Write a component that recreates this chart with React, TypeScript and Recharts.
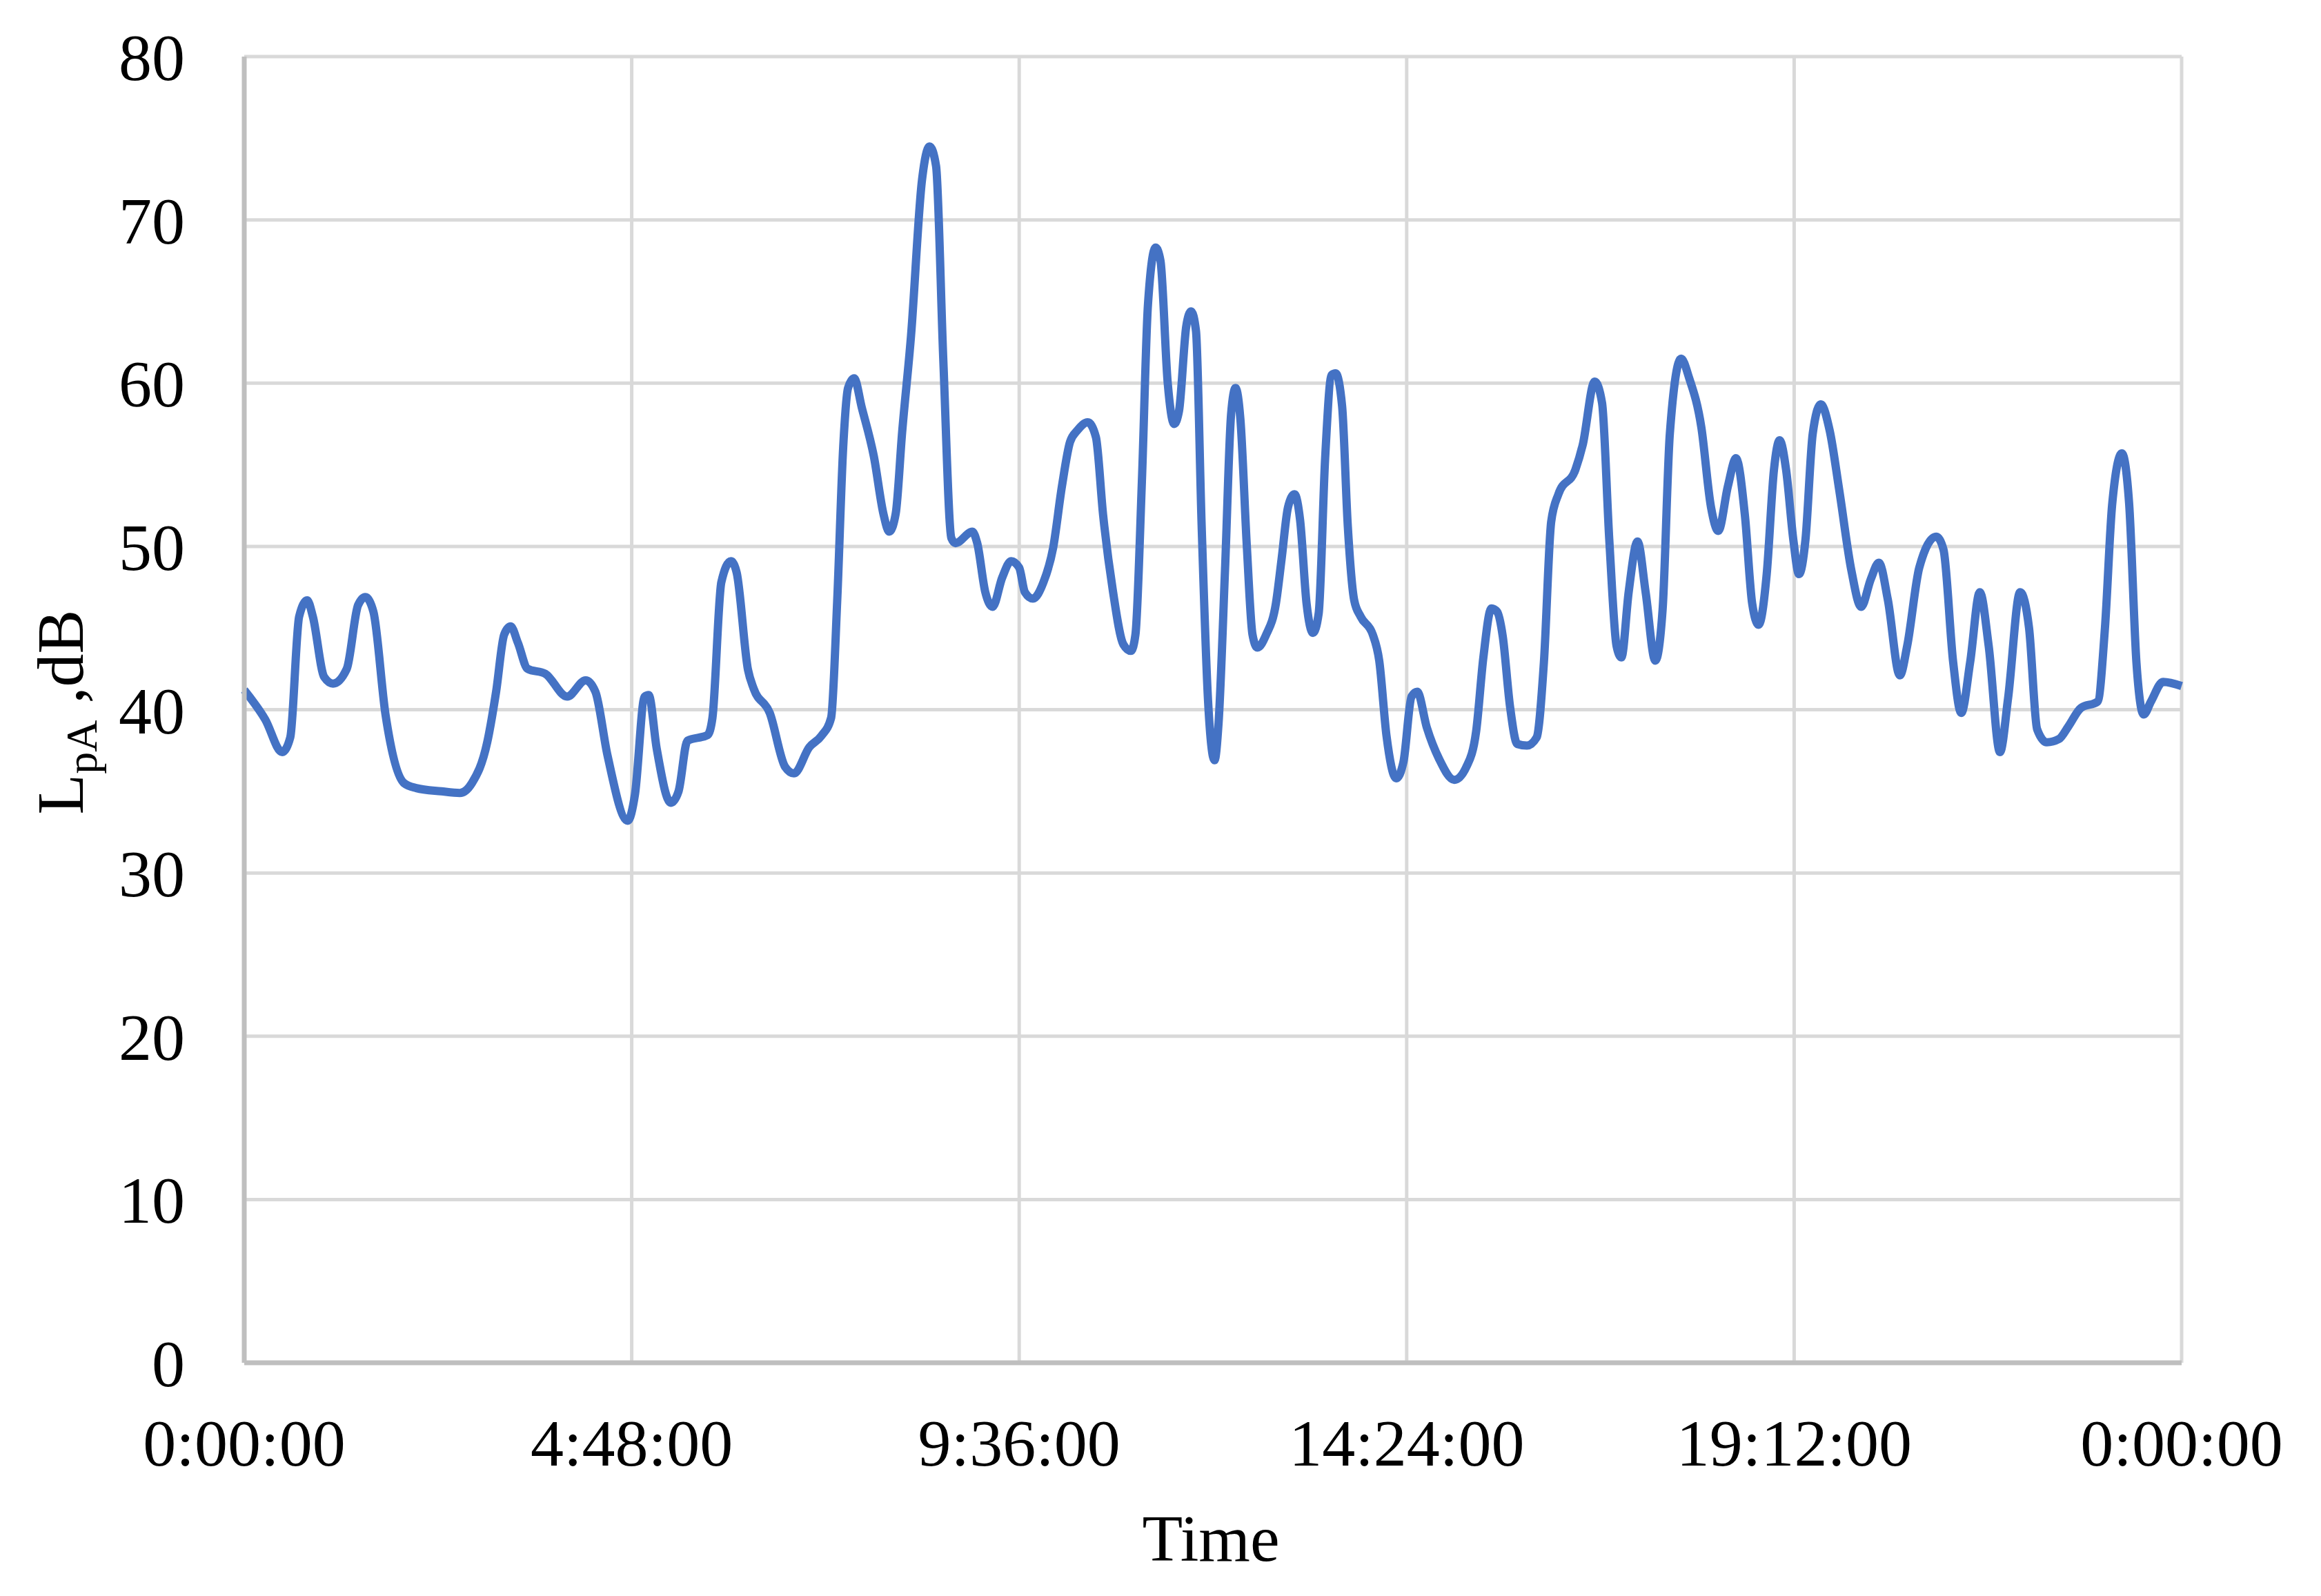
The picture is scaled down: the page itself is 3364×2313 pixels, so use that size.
import { LineChart, Line, XAxis, YAxis, CartesianGrid } from 'recharts';

// time of day in hours (0 = 0:00:00, 24 = next 0:00:00)
const hours = [
  0.0, 0.26, 0.47, 0.57, 0.68, 0.78, 0.85, 0.99, 1.1, 1.27, 1.41, 1.5, 1.6, 1.75, 1.98, 2.13, 2.44, 2.67, 2.82,
  3.01, 3.12, 3.22, 3.3, 3.39, 3.51, 3.73, 4.0, 4.23, 4.35, 4.5, 4.75, 4.84, 4.96, 5.01, 5.11, 5.285, 5.38, 5.49,
  5.74, 5.8, 5.91, 6.03, 6.1, 6.24, 6.31, 6.51, 6.7, 6.81, 7.0, 7.15, 7.27, 7.345, 7.42, 7.48, 7.555, 7.65, 7.8,
  7.92, 7.99, 8.07, 8.15, 8.26, 8.395, 8.49, 8.57, 8.66, 8.76, 8.81, 9.02, 9.08, 9.18, 9.27, 9.39, 9.5, 9.6, 9.67,
  9.77, 9.9, 10.02, 10.13, 10.23, 10.32, 10.45, 10.55, 10.64, 10.76, 10.89, 10.985, 11.04, 11.12, 11.195, 11.29,
  11.35, 11.44, 11.52, 11.58, 11.67, 11.73, 11.79, 11.86, 11.94, 12.02, 12.07, 12.15, 12.225, 12.28, 12.34, 12.42,
  12.49, 12.55, 12.66, 12.78, 12.85, 12.93, 13.01, 13.08, 13.16, 13.24, 13.31, 13.39, 13.47, 13.52, 13.6, 13.67,
  13.75, 13.83, 13.98, 14.06, 14.15, 14.27, 14.36, 14.46, 14.53, 14.65, 14.8, 14.99, 15.14, 15.26, 15.35, 15.45,
  15.52, 15.59, 15.68, 15.77, 15.89, 16.01, 16.1, 16.19, 16.28, 16.49, 16.58, 16.73, 16.82, 16.91, 17.0, 17.06,
  17.15, 17.26, 17.36, 17.48, 17.57, 17.66, 17.8, 17.9, 18.05, 18.17, 18.26, 18.38, 18.48, 18.59, 18.68, 18.76,
  18.86, 18.95, 19.02, 19.1, 19.19, 19.26, 19.34, 19.43, 19.53, 19.64, 19.76, 19.91, 20.03, 20.15, 20.25, 20.36,
  20.51, 20.6, 20.75, 20.96, 21.05, 21.17, 21.27, 21.38, 21.5, 21.61, 21.75, 21.85, 22.0, 22.11, 22.21, 22.33,
  22.48, 22.6, 22.75, 22.96, 23.05, 23.14, 23.26, 23.35, 23.44, 23.53, 23.62, 23.77, 24.0,
];

// LpA in dB
const levels = [
  41.2, 39.4, 37.4, 38.3, 45.7, 46.7, 45.7, 42.0, 41.6, 42.5, 46.4, 46.9, 46.0, 39.7, 35.5, 35.2, 35.0, 34.9, 35.5,
  38.0, 41.1, 44.6, 45.1, 44.1, 42.5, 42.2, 40.8, 41.8, 41.1, 37.2, 33.2, 34.8, 40.8, 40.9, 37.6, 34.3, 35.0, 38.1,
  38.45, 39.5, 47.8, 49.1, 48.4, 42.45, 41.3, 39.8, 36.5, 36.1, 37.7, 38.4, 39.5, 46.6, 56.1, 59.7, 60.3, 58.5, 55.5,
  51.95, 50.9, 52.0, 57.0, 62.9, 72.4, 74.5, 73.3, 61.4, 50.5, 50.2, 50.9, 50.2, 47.2, 46.3, 48.1, 49.1, 48.7, 47.2,
  46.8, 47.8, 49.9, 53.7, 56.4, 57.1, 57.6, 56.7, 51.9, 47.3, 44.0, 43.6, 44.6, 54.0, 64.8, 68.3,
  67.5, 60.0, 57.5, 58.3, 63.5, 64.4, 63.2, 51.3, 40.5, 36.9, 39.2, 48.6, 58.1, 59.7, 57.8, 50.0,
  44.6, 43.8, 44.6, 46.5, 49.2, 52.4, 53.2, 51.6, 46.5, 44.7, 45.9, 55.4, 60.5, 60.6, 58.6, 51.3,
  46.7, 45.7, 44.6, 43.0, 38.4, 35.8, 36.8, 40.8, 41.1, 38.9, 37.0, 35.7, 36.5, 38.65, 43.2, 46.2,
  46.0, 44.5, 40.2, 37.9, 37.8, 38.3, 42.9, 51.5, 53.2, 54.7, 56.2, 60.1, 58.8, 50.4, 43.9, 43.2,
  47.2, 50.3, 47.2, 43.0, 46.1, 56.9, 61.5, 60.3, 57.3, 52.4, 50.95, 53.7, 55.4, 51.9, 46.5, 45.2,
  48.3, 54.7, 56.5, 54.7, 50.4, 48.3, 50.4, 56.9, 58.7, 57.1, 53.4, 48.5, 46.3, 48.0, 49.0, 46.75,
  42.1, 43.9, 48.7, 50.6, 49.8, 42.9, 39.8, 42.9, 47.2, 43.9, 37.4, 40.7, 47.2, 45.0, 38.8, 38.0,
  38.2, 39.0, 40.1, 40.5, 45.0, 52.6, 55.7, 52.6, 42.9, 39.7, 40.5, 41.7, 41.45,
];

const xTicks = [0, 4.8, 9.6, 14.4, 19.2, 24];
const xTickLabels = ['0:00:00', '4:48:00', '9:36:00', '14:24:00', '19:12:00', '0:00:00'];
const yTicks = [0, 10, 20, 30, 40, 50, 60, 70, 80];

const dados = hours.map((h, i) => ({ h, lpa: levels[i] }));

const FONT = '"Liberation Serif", "Times New Roman", serif';

function TituloX() {
  return (
    <text x={1755} y={2262} textAnchor="middle" fontFamily={FONT} fontSize={96} fill="#000">
      Time
    </text>
  );
}

function TituloY() {
  return (
    <text
      x={120}
      y={1032}
      transform="rotate(-90, 120, 1032)"
      textAnchor="middle"
      fontFamily={FONT}
      fontSize={96}
      fill="#000"
    >
      <tspan>L</tspan>
      <tspan fontSize={64} dy={20}>pA</tspan>
      <tspan dy={-20}> ,dB</tspan>
    </text>
  );
}

export default function App() {
  const tickStyle = { fontFamily: FONT, fontSize: 96, fill: '#000' };

  return (
    <div style={{ position: 'absolute', left: 0, top: 0, background: '#fff' }}>
      <LineChart
        width={3364}
        height={2313}
        data={dados}
        margin={{ top: 82, right: 202, left: 254, bottom: 238 }}
      >
        <CartesianGrid stroke="#d9d9d9" strokeWidth={5} />
        <XAxis
          type="number"
          dataKey="h"
          domain={[0, 24]}
          ticks={xTicks}
          interval={0}
          tickFormatter={(v) => xTickLabels[xTicks.indexOf(v)] ?? ''}
          height={100}
          tickLine={false}
          tickSize={0}
          tickMargin={81}
          axisLine={{ stroke: '#bfbfbf', strokeWidth: 7 }}
          tick={tickStyle}
          label={<TituloX />}
        />
        <YAxis
          domain={[0, 80]}
          ticks={yTicks}
          interval={0}
          width={100}
          tickLine={false}
          tickSize={0}
          tickMargin={86}
          axisLine={{ stroke: '#bfbfbf', strokeWidth: 7 }}
          tick={tickStyle}
          label={<TituloY />}
        />
        <Line
          type="monotone"
          dataKey="lpa"
          stroke="#4472c4"
          strokeWidth={12}
          dot={false}
          activeDot={false}
          isAnimationActive={false}
        />
      </LineChart>
    </div>
  );
}
